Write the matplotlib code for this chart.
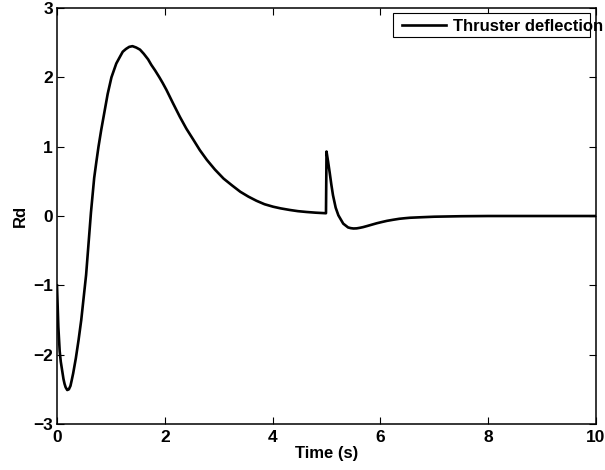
import matplotlib
matplotlib.use('Agg')
import matplotlib.pyplot as plt
from matplotlib.patches import Rectangle
from matplotlib.lines import Line2D

plt.rcParams['font.family'] = ['Liberation Sans', 'DejaVu Sans']
plt.rcParams['font.weight'] = 'bold'

# values
time = [0, 0.025, 0.05, 0.07, 0.09, 0.12, 0.14, 0.16, 0.19, 0.22, 0.25, 0.27,
        0.30, 0.35, 0.40, 0.45, 0.49, 0.54, 0.58, 0.63, 0.69, 0.73, 0.77,
        0.82, 0.88, 0.94, 1.01, 1.10, 1.17, 1.22, 1.28, 1.34, 1.40, 1.47,
        1.54, 1.61, 1.69, 1.75, 1.82, 1.90, 1.96, 2.03, 2.15, 2.28, 2.40,
        2.53, 2.65, 2.78, 2.93, 3.09, 3.25, 3.40, 3.55, 3.70, 3.85, 4.01,
        4.15, 4.32, 4.47, 4.63, 4.80, 4.99, 5.0, 5.03, 5.06, 5.09, 5.12,
        5.17, 5.22, 5.31, 5.40, 5.45, 5.50, 5.56, 5.62, 5.68, 5.75, 5.84,
        5.93, 6.02, 6.12, 6.23, 6.35, 6.45, 6.55, 6.75, 7.0, 7.5, 8.0, 9.0, 10.0]
rd = [-1.0, -1.6, -1.95, -2.1, -2.2, -2.35, -2.42, -2.47, -2.51, -2.50, -2.45, -2.38,
      -2.27, -2.05, -1.79, -1.5, -1.21, -0.85, -0.45, 0.05, 0.55, 0.78, 1.0,
      1.24, 1.5, 1.76, 2.0, 2.2, 2.3, 2.37, 2.41, 2.44, 2.45, 2.43,
      2.40, 2.34, 2.26, 2.18, 2.10, 2.0, 1.92, 1.82, 1.63, 1.43, 1.26,
      1.10, 0.95, 0.81, 0.67, 0.54, 0.44, 0.35, 0.28, 0.22, 0.17, 0.134,
      0.11, 0.087, 0.07, 0.058, 0.048, 0.04, 0.93, 0.78, 0.62, 0.45, 0.30,
      0.12, 0.01, -0.11, -0.165, -0.175, -0.18, -0.178, -0.17, -0.16, -0.145, -0.125,
      -0.105, -0.088, -0.07, -0.055, -0.04, -0.032, -0.025, -0.018, -0.01, -0.003, 0.0, 0.0, 0.0]
x_ticks = [0, 2, 4, 6, 8, 10]
y_ticks = [-3, -2, -1, 0, 1, 2, 3]

fig = plt.figure(figsize=(6.05, 4.7), dpi=100)
ax = fig.add_axes([0.0942, 0.0979, 0.891, 0.885])
ax.plot(time, rd, color='black', linewidth=1.9)

ax.set_xlim(0, 10)
ax.set_ylim(-3, 3)
ax.set_xticks(x_ticks)
ax.set_yticks(y_ticks)
ax.tick_params(direction='in', length=5, width=0.8, top=True, right=True,
               labelsize=12.5, pad=3)
ax.tick_params(axis='x', pad=4)
for lab in ax.get_xticklabels() + ax.get_yticklabels():
    lab.set_fontweight('bold')
for s in ax.spines.values():
    s.set_linewidth(1.1)

ax.set_xlabel('Time (s)', fontsize=12, fontweight='bold', labelpad=1)
ax.set_ylabel('Rd', fontsize=12, fontweight='bold', labelpad=4)

# legend drawn by hand so the text runs past the box like the original
ax.add_patch(Rectangle((0.623, 0.931), 0.366, 0.056, transform=ax.transAxes,
                       facecolor='white', edgecolor='black', linewidth=0.8,
                       clip_on=False, zorder=5))
ax.add_line(Line2D([0.640, 0.722], [0.959, 0.959], transform=ax.transAxes,
                   color='black', linewidth=1.9, clip_on=False, zorder=6))
ax.text(0.735, 0.955, 'Thruster deflection', transform=ax.transAxes,
        fontsize=12, fontweight='bold', va='center', ha='left',
        clip_on=False, zorder=6)

fig.savefig('out.png', dpi=100)
